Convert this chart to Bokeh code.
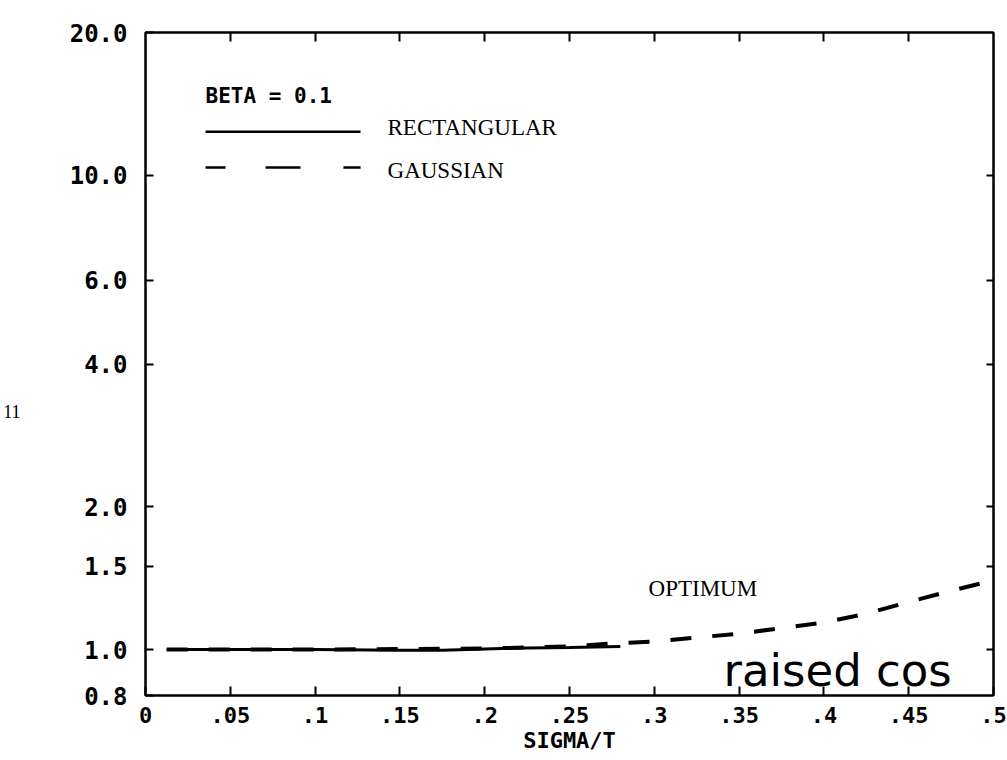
from bokeh.plotting import figure
from bokeh.models import Range1d, FixedTicker, LogAxis, LinearAxis, Label, PrintfTickFormatter, CustomJSTickFormatter
from bokeh.embed import file_html
from bokeh.resources import INLINE

# ---- data ----
x_ticks = [0.0, 0.05, 0.1, 0.15, 0.2, 0.25, 0.3, 0.35, 0.4, 0.45, 0.5]
x_tick_labels = ["0", ".05", ".1", ".15", ".2", ".25", ".3", ".35", ".4", ".45", ".5"]
top_ticks = [0.05, 0.1, 0.15, 0.2, 0.25, 0.3, 0.35, 0.4, 0.45]
y_ticks = [0.8, 1.0, 1.5, 2.0, 4.0, 6.0, 10.0, 20.0]
right_ticks = [1.0, 1.5, 2.0, 4.0, 6.0, 10.0]
side_label_pos = [3.17]
side_label_text = ["11"]

rect_x = [0.0125, 0.05, 0.1, 0.15, 0.175, 0.2, 0.225, 0.25, 0.28]
rect_y = [1.0, 1.0, 1.0, 0.997, 0.997, 1.003, 1.008, 1.01, 1.015]

gauss_x = [0.0125, 0.1, 0.2, 0.25, 0.275, 0.3, 0.325, 0.35, 0.375, 0.4, 0.425, 0.45, 0.475, 0.5]
gauss_y = [1.0, 1.0, 1.005, 1.015, 1.03, 1.04, 1.06, 1.08, 1.11, 1.14, 1.19, 1.26, 1.33, 1.40]

MONO = "DejaVu Sans Mono"
SERIF = "Liberation Serif"

p = figure(width=1007, height=760, x_range=Range1d(0, 0.5), y_range=Range1d(0.8, 20),
           y_axis_type="log", output_backend="svg", toolbar_location=None,
           min_border_left=145, min_border_right=14, min_border_top=32, min_border_bottom=65)
p.grid.visible = False
p.outline_line_color = "black"
p.outline_line_width = 2
p.background_fill_color = "white"
p.border_fill_color = "white"

# bottom axis
xa = p.xaxis[0]
xa.ticker = FixedTicker(ticks=x_ticks)
xa.major_label_overrides = dict(zip(x_ticks, x_tick_labels))
xa.major_tick_in = 9
xa.major_tick_out = 0
xa.minor_tick_line_color = None
xa.axis_line_width = 2
xa.major_tick_line_width = 2
xa.major_label_standoff = 11
xa.major_label_text_font = MONO
xa.major_label_text_font_style = "bold"
xa.major_label_text_font_size = "22px"
xa.major_label_text_color = "black"
xa.axis_label = "SIGMA/T"
xa.axis_label_standoff = 2
xa.axis_label_text_font = MONO
xa.axis_label_text_font_style = "bold"
xa.axis_label_text_font_size = "22px"
xa.axis_label_text_color = "black"

# left axis
ya = p.yaxis[0]
ya.ticker = FixedTicker(ticks=y_ticks)
ya.formatter = PrintfTickFormatter(format="%.1f")
ya.major_tick_in = 8
ya.major_tick_out = 0
ya.minor_tick_line_color = None
ya.axis_line_width = 2
ya.major_tick_line_width = 2
ya.major_label_standoff = 18
ya.major_label_text_font = MONO
ya.major_label_text_font_style = "bold"
ya.major_label_text_font_size = "24px"
ya.major_label_text_color = "black"

# outer left axis carrying the stray "11" label
la = LogAxis(ticker=FixedTicker(ticks=side_label_pos),
             major_label_overrides=dict(zip(side_label_pos, side_label_text)),
             axis_line_color=None, major_tick_line_color=None, minor_tick_line_color=None,
             major_tick_in=0, major_tick_out=0, major_label_standoff=46,
             major_label_text_font=SERIF, major_label_text_font_size="18px",
             major_label_text_color="black")
p.add_layout(la, "left")

# top axis (ticks only)
ta = LinearAxis(ticker=FixedTicker(ticks=top_ticks),
                formatter=CustomJSTickFormatter(code="return ''"),
                major_tick_in=9, major_tick_out=0, minor_tick_line_color=None,
                axis_line_width=2, major_tick_line_width=2, major_label_standoff=0)
p.add_layout(ta, "above")

# right axis (ticks only)
ra = LogAxis(ticker=FixedTicker(ticks=right_ticks),
             formatter=CustomJSTickFormatter(code="return ''"),
             major_tick_in=7, major_tick_out=0, minor_tick_line_color=None,
             axis_line_width=2, major_tick_line_width=2, major_label_standoff=0)
p.add_layout(ra, "right")

# curves
p.line(rect_x, rect_y, line_color="black", line_width=3)
p.line(gauss_x, gauss_y, line_color="black", line_width=4, line_dash="21 21")

# legend samples
p.line([0.0354, 0.1268], [12.36, 12.36], line_color="black", line_width=2.5)
p.segment(x0=[0.0354, 0.0708, 0.1167], y0=[10.38] * 3, x1=[0.0472, 0.0914, 0.1268], y1=[10.38] * 3,
          line_color="black", line_width=2.5)

# texts
p.add_layout(Label(x=0.0354, y=14.7, text="BETA = 0.1", text_font=MONO, text_font_style="bold",
                   text_font_size="21px", text_color="black", text_baseline="alphabetic"))
p.add_layout(Label(x=0.1427, y=12.6, text="RECTANGULAR", text_font=SERIF,
                   text_font_size="23px", text_color="black", text_baseline="alphabetic"))
p.add_layout(Label(x=0.1427, y=10.23, text="GAUSSIAN", text_font=SERIF,
                   text_font_size="23px", text_color="black", text_baseline="alphabetic"))
p.add_layout(Label(x=0.2966, y=1.343, text="OPTIMUM", text_font=SERIF,
                   text_font_size="23px", text_color="black", text_baseline="alphabetic"))
p.add_layout(Label(x=0.3408, y=0.902, text="raised cos", text_font="DejaVu Sans",
                   text_font_size="45px", text_color="black", text_baseline="alphabetic"))

open("out.html", "w").write(file_html(p, INLINE))
